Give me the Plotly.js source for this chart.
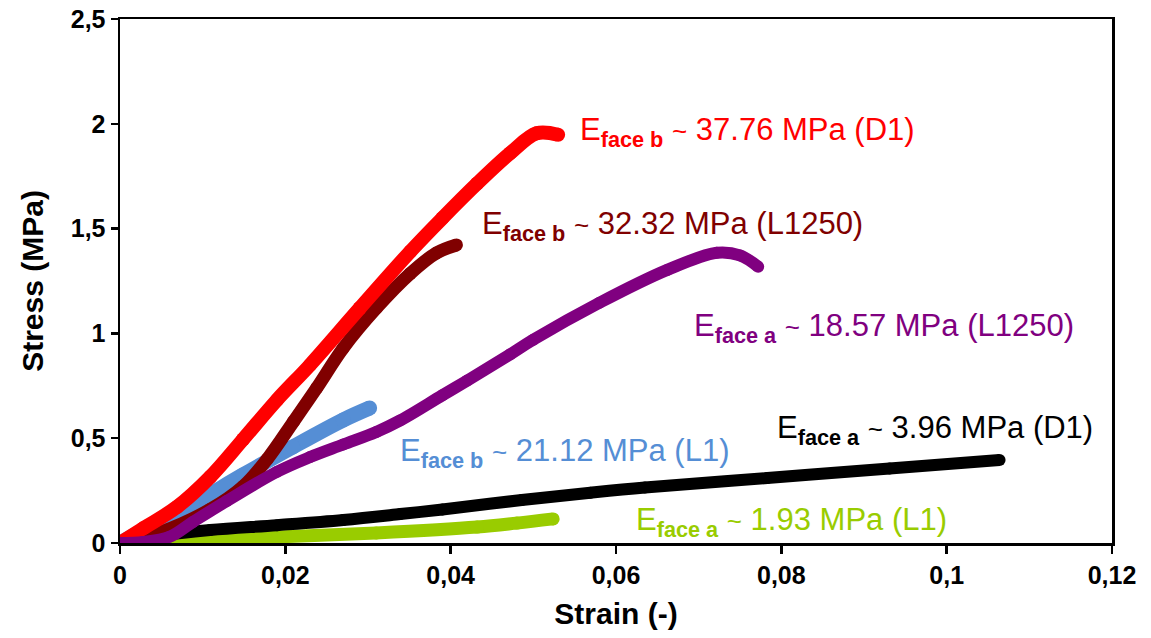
<!DOCTYPE html>
<html>
<head>
<meta charset="utf-8">
<script src="https://cdn.plot.ly/plotly-3.0.1.min.js"></script>
<style>html,body{margin:0;padding:0;background:#fff;}#chart{width:1151px;height:638px;}</style>
</head>
<body>
<div id="chart"></div>
<script>
// Strain (-) and stress (MPa)
const redStrain   = [0, 0.0028, 0.0069, 0.0109, 0.0149, 0.019, 0.023, 0.029, 0.0351, 0.039, 0.0432, 0.0472, 0.0504, 0.053];
const redStress   = [0, 0.07, 0.172, 0.315, 0.495, 0.683, 0.85, 1.12, 1.39, 1.55, 1.715, 1.86, 1.955, 1.948];

const brownStrain = [0, 0.0048, 0.0109, 0.0149, 0.0178, 0.021, 0.0238, 0.027, 0.031, 0.0351, 0.0383, 0.0407];
const brownStress = [0, 0.05, 0.16, 0.27, 0.40, 0.58, 0.74, 0.93, 1.12, 1.285, 1.384, 1.422];

const blueStrain  = [0, 0.0028, 0.0088, 0.0149, 0.0209, 0.027, 0.0302];
const blueStress  = [0, 0.06, 0.185, 0.325, 0.458, 0.587, 0.644];

const purpleStrain = [0, 0.0028, 0.006, 0.0088, 0.0129, 0.019, 0.023, 0.027, 0.031, 0.0339, 0.039, 0.042, 0.0472, 0.05, 0.058, 0.0662, 0.0722, 0.075, 0.0772];
const purpleStress = [0, 0.005, 0.03, 0.1, 0.2, 0.34, 0.41, 0.47, 0.53, 0.585, 0.705, 0.775, 0.9, 0.97, 1.146, 1.303, 1.385, 1.372, 1.318];

const blackStrain = [0, 0.0048, 0.0109, 0.019, 0.027, 0.0339, 0.039, 0.0486, 0.0569, 0.0635, 0.0783, 0.0931, 0.1064];
const blackStress = [0, 0.035, 0.062, 0.085, 0.11, 0.138, 0.16, 0.205, 0.24, 0.265, 0.31, 0.355, 0.396];

const greenStrain = [0, 0.0069, 0.019, 0.031, 0.0432, 0.048, 0.0524];
const greenStress = [0, 0.014, 0.029, 0.048, 0.076, 0.095, 0.115];

const labels = [
  {face: 'face b', value: '37.76', sample: 'D1',    color: '#FF0000', x: 0.0554, y: 1.962},
  {face: 'face b', value: '32.32', sample: 'L1250', color: '#800000', x: 0.0435, y: 1.513},
  {face: 'face a', value: '18.57', sample: 'L1250', color: '#800080', x: 0.0692, y: 1.026},
  {face: 'face a', value: '3.96',  sample: 'D1',    color: '#000000', x: 0.0792, y: 0.539},
  {face: 'face b', value: '21.12', sample: 'L1',    color: '#558ED5', x: 0.0336, y: 0.430},
  {face: 'face a', value: '1.93',  sample: 'L1',    color: '#99CC00', x: 0.0622, y: 0.100}
];

const xTicks = [0, 0.02, 0.04, 0.06, 0.08, 0.1, 0.12];
const yTicks = [0, 0.5, 1, 1.5, 2, 2.5];

function series(x, y, color, w) {
  return {x: x, y: y, type: 'scatter', mode: 'lines+markers', hoverinfo: 'skip',
    line: {color: color, width: w, shape: 'spline', smoothing: 1},
    marker: {color: color, size: w}, showlegend: false};
}

const data = [
  series(greenStrain, greenStress, '#99CC00', 13),
  series(blackStrain, blackStress, '#000000', 12),
  series(blueStrain, blueStress, '#558ED5', 15),
  series(brownStrain, brownStress, '#800000', 13),
  series(redStrain, redStress, '#FF0000', 14),
  series(purpleStrain, purpleStress, '#800080', 12)
];

const font = 'Liberation Sans, Arial, sans-serif';
const annotations = labels.map(l => ({
  x: l.x, y: l.y, xref: 'x', yref: 'y', xanchor: 'left', yanchor: 'middle', showarrow: false,
  text: 'E<sub><b>' + l.face + '</b></sub> <span style="font-size:26px">~</span> ' + l.value + ' MPa (' + l.sample + ')',
  font: {family: font, size: 31, color: l.color}
}));

const layout = {
  width: 1151, height: 638,
  margin: {l: 120, r: 39, t: 19, b: 95},
  paper_bgcolor: '#fff', plot_bgcolor: '#fff',
  separators: ',.',
  showlegend: false,
  xaxis: {
    range: [0, 0.12], tickvals: xTicks, ticktext: xTicks.map(v => String(v).replace('.', ',')),
    showgrid: false, zeroline: false, showline: true, linecolor: '#000', linewidth: 2.5, mirror: true,
    ticks: 'outside', ticklen: 8, tickwidth: 2.5, tickcolor: '#000',
    tickfont: {family: font, size: 25, color: '#000', weight: 'bold'},
    title: {text: '<b>Strain (-)</b>', font: {family: font, size: 30, color: '#000'}, standoff: 16}
  },
  yaxis: {
    range: [0, 2.5], tickvals: yTicks, ticktext: yTicks.map(v => String(v).replace('.', ',')),
    showgrid: false, zeroline: false, showline: true, linecolor: '#000', linewidth: 2.5, mirror: true,
    ticks: 'outside', ticklen: 7, tickwidth: 2.5, tickcolor: '#000',
    tickfont: {family: font, size: 25, color: '#000', weight: 'bold'},
    title: {text: '<b>Stress (MPa)</b>', font: {family: font, size: 30, color: '#000'}, standoff: 18}
  },
  annotations: annotations
};

Plotly.newPlot('chart', data, layout, {staticPlot: true, displayModeBar: false});
</script>
</body>
</html>
